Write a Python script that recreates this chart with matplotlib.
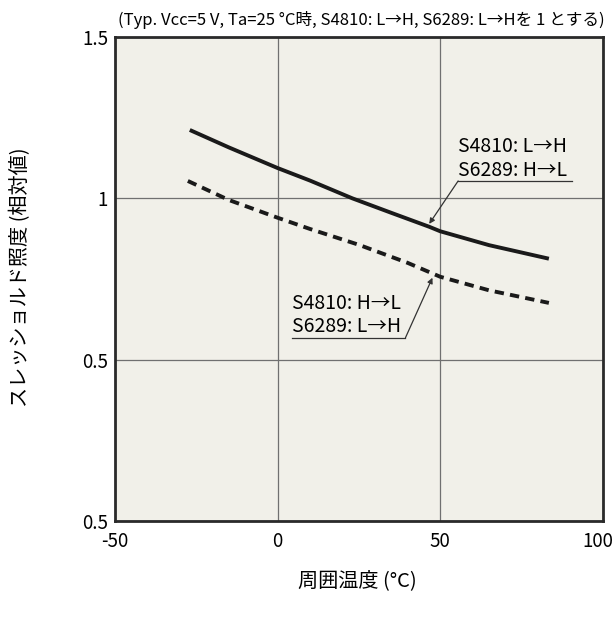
import matplotlib.pyplot as plt
import matplotlib.transforms as mtransforms

plt.rcParams['font.family'] = ['Noto Sans CJK JP', 'DejaVu Sans']
plt.rcParams['axes.unicode_minus'] = False

# データ (周囲温度 °C, 相対値)
temp_solid = [-27, -15, 0, 10, 23, 35, 46.6, 50, 65, 83.4]
val_solid = [1.212, 1.158, 1.094, 1.055, 1.0, 0.955, 0.912, 0.898, 0.855, 0.813]
temp_dash = [-27.6, -15, 0, 10, 25, 40, 50, 65, 83.4]
val_dash = [1.054, 0.995, 0.94, 0.905, 0.856, 0.8, 0.757, 0.715, 0.676]

xticks = [-50, 0, 50, 100]
yticks = [0, 0.5, 1, 1.5]
ytick_labels = ['0.5', '0.5', '1', '1.5']

fig = plt.figure(figsize=(6.16, 6.22), dpi=100)
ax = fig.add_axes([0.1867, 0.1624, 0.792, 0.778])
ax.set_facecolor('#f1f0e9')

ax.plot(temp_solid, val_solid, color='#1a1a1a', lw=2.8, solid_capstyle='butt')
ax.plot(temp_dash, val_dash, color='#1a1a1a', lw=2.8, dashes=(2.4, 1.6))

ax.set_xlim(-50, 100)
ax.set_ylim(0, 1.5)
ax.set_xticks(xticks)
ax.set_yticks(yticks)
ax.set_yticklabels(ytick_labels)
ax.tick_params(length=0, labelsize=13.5)
ax.tick_params(axis='x', pad=7)
ax.tick_params(axis='y', pad=5)
ax.grid(True, color='#707070', lw=0.9)
for s in ax.spines.values():
    s.set_linewidth(2)
    s.set_color('#2a2a2a')

# 右端の "100" を少し内側へ
lbl = ax.get_xticklabels()[-1]
lbl.set_transform(lbl.get_transform() +
                  mtransforms.ScaledTranslation(-4 / 72, 0, fig.dpi_scale_trans))

# 注記
ax.text(55.5, 1.16, 'S4810: L→H', fontsize=14, va='center', ha='left')
ax.text(55.5, 1.085, 'S6289: H→L', fontsize=14, va='center', ha='left')
ax.plot([55.5, 90.5], [1.054, 1.054], color='#333333', lw=0.9)
ax.annotate('', xy=(46.6, 0.921), xytext=(55.5, 1.054),
            arrowprops=dict(arrowstyle='-|>', color='#333333', lw=0.9,
                            mutation_scale=8, shrinkA=0, shrinkB=0))

ax.text(4.3, 0.673, 'S4810: H→L', fontsize=14, va='center', ha='left')
ax.text(4.3, 0.602, 'S6289: L→H', fontsize=14, va='center', ha='left')
ax.plot([4.3, 39.3], [0.568, 0.568], color='#333333', lw=0.9)
ax.annotate('', xy=(47.6, 0.754), xytext=(39.3, 0.568),
            arrowprops=dict(arrowstyle='-|>', color='#333333', lw=0.9,
                            mutation_scale=8, shrinkA=0, shrinkB=0))

fig.text(0.1915, 0.968, '(Typ. Vcc=5 V, Ta=25 °C時, S4810: L→H, S6289: L→Hを 1 とする)',
         fontsize=12, va='center', ha='left')
fig.text(0.034, 0.555, 'スレッショルド照度 (相対値)', rotation=90, fontsize=14.5,
         va='center', ha='center')
fig.text(0.58, 0.067, '周囲温度 (°C)', fontsize=14.5, va='center', ha='center')

fig.savefig('out.png', dpi=100)
